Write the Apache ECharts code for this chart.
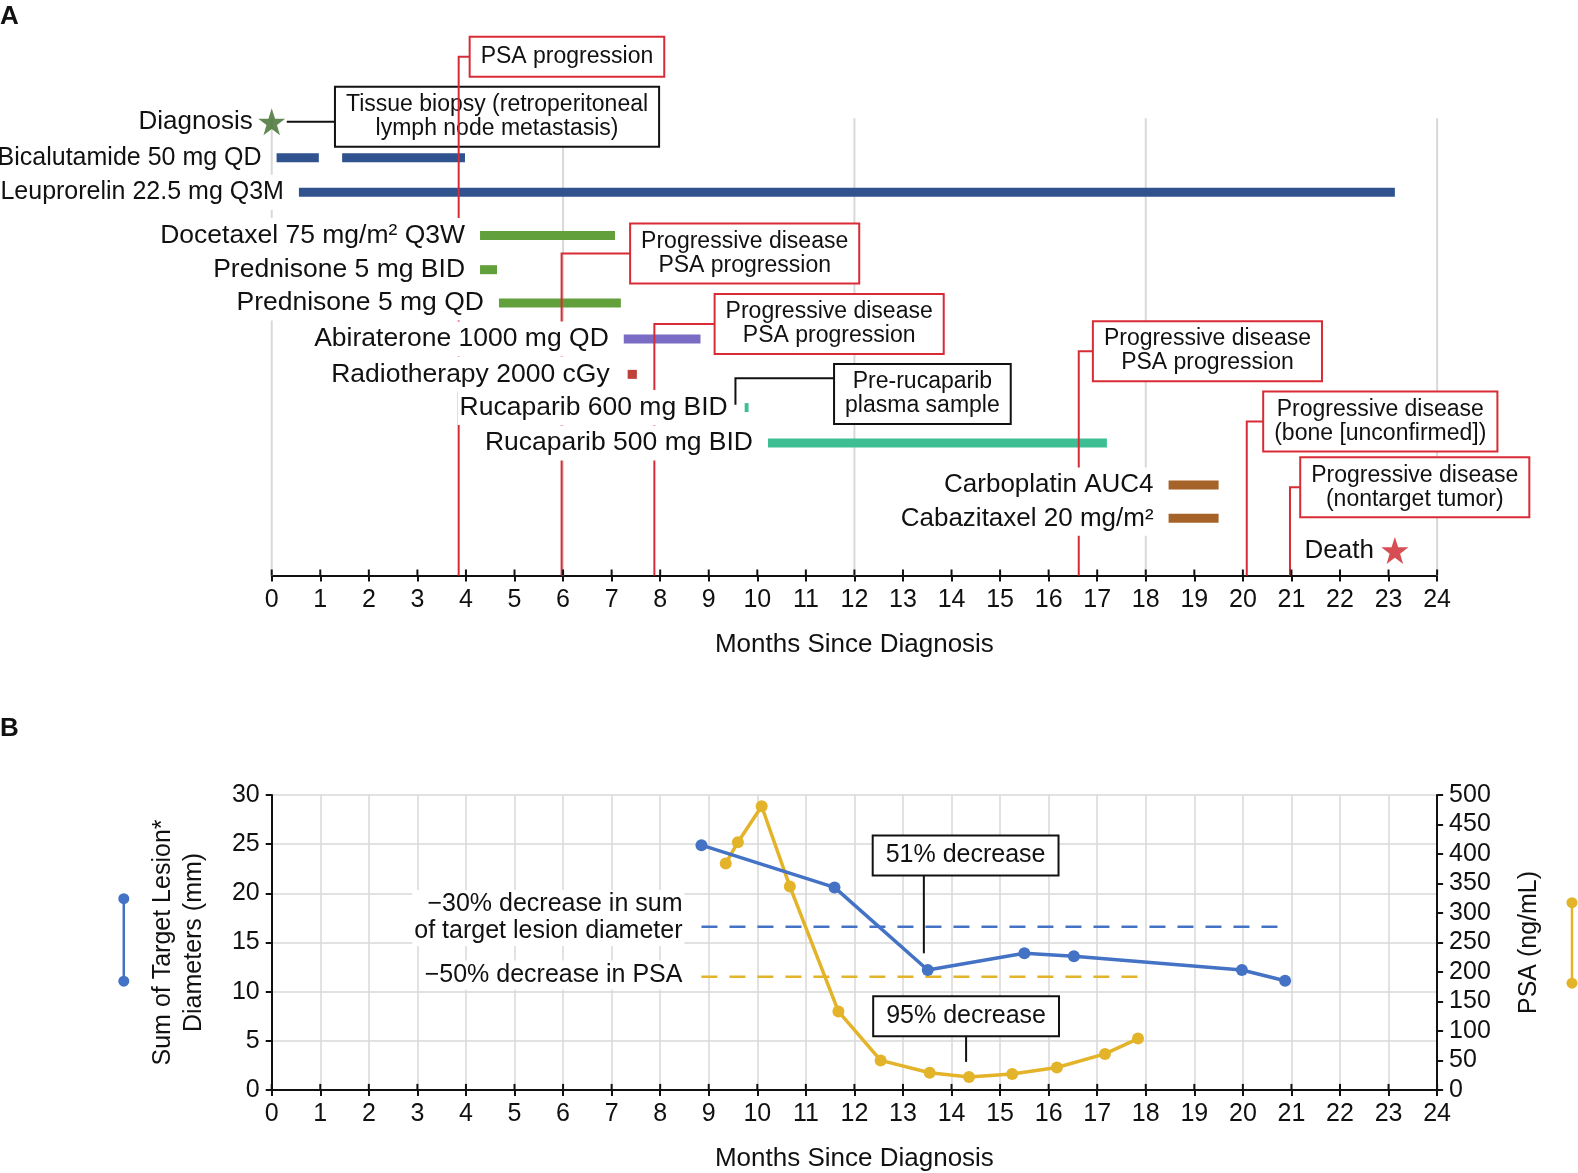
<!DOCTYPE html>
<html>
<head>
<meta charset="utf-8">
<script src="https://cdn.jsdelivr.net/npm/echarts@6/dist/echarts.min.js"></script>
<style>html,body{margin:0;padding:0;background:#fff}#c{width:1578px;height:1173px}</style>
</head>
<body>
<div id="c"></div>
<script>
// ---------------- DATA ----------------
const monthTicks = 24;
const tickMonths = Array.from({length: monthTicks + 1}, (_, i) => i);
const gridMonths = [0, 6, 12, 18, 24];
const rowLabels = [
  'Diagnosis', 'Bicalutamide 50 mg QD', 'Leuprorelin 22.5 mg Q3M', 'Docetaxel 75 mg/m\u00b2 Q3W',
  'Prednisone 5 mg BID', 'Prednisone 5 mg QD', 'Abiraterone 1000 mg QD', 'Radiotherapy 2000 cGy',
  'Rucaparib 600 mg BID', 'Rucaparib 500 mg BID', 'Carboplatin AUC4', 'Cabazitaxel 20 mg/m\u00b2', 'Death'
];
// [row, start month, end month]
const treatments = [
  [1, 0.10, 0.97], [1, 1.45, 3.98],
  [2, 0.56, 23.13],
  [3, 4.29, 7.07],
  [4, 4.29, 4.64],
  [5, 4.68, 7.19],
  [6, 7.25, 8.83],
  [7, 7.33, 7.52],
  [8, 9.74, 9.82],
  [9, 10.22, 17.20],
  [10, 18.47, 19.50],
  [11, 18.47, 19.50]
];
// [month, row]
const milestones = [[0, 0], [23.13, 12]];
const progressionMonths = [3.85, 5.97, 7.88, 16.62, 20.08, 20.97];
const progressionTexts = [
  'PSA progression',
  'Progressive disease\nPSA progression',
  'Progressive disease\nPSA progression',
  'Progressive disease\nPSA progression',
  'Progressive disease\n(bone [unconfirmed])',
  'Progressive disease\n(nontarget tumor)'
];
const noteMonths = [0, 9.55];
const noteTexts = ['Tissue biopsy (retroperitoneal\nlymph node metastasis)', 'Pre-rucaparib\nplasma sample'];

const lesionMonths = [8.85, 11.59, 13.51, 15.50, 16.52, 19.98, 20.87];
const lesionValues = [24.9, 20.6, 12.2, 13.9, 13.6, 12.2, 11.1];
const psaMonths = [9.35, 9.60, 10.09, 10.67, 11.67, 12.54, 13.55, 14.36, 15.25, 16.17, 17.16, 17.84];
const psaValues = [384, 420, 481, 345, 133, 50, 29, 22, 27, 38, 61, 87];
const lesionThreshold = 16.6;
const psaThreshold = 192;
const lesionNote = '51% decrease';
const psaNote = '95% decrease';
const lesionThresholdText = '\u221230% decrease in sum\nof target lesion diameter';
const psaThresholdText = '\u221250% decrease in PSA';

// ---------------- LAYOUT / STYLE ----------------
const S = 1578 / 1568;
const FONT = '"Liberation Sans", Arial, Helvetica, sans-serif';
const RED = '#d92b35';
const INK = '#111';
const GRID = '#d9d9d9';
const BLUE = '#4472c4';
const GOLD = '#e3b32a';
const rowColors = ['#3b6a28', '#30538f', '#30538f', '#62a03c', '#62a03c', '#62a03c', '#7a6cc4',
  '#c0403a', '#3dbf93', '#3dbf93', '#a5632a', '#a5632a', '#cc2228'];
const rowFont = [26, 25, 25, 26.5, 26.5, 26.5, 26.5, 26.5, 26.5, 26.5, 26, 26, 26];
const rowGap = [17, 13, 13, 13, 13, 13, 13, 16, 15, 13, 13, 13, 19];
// vertical lane of each row (layout only)
const rowLane = [0, 1.01, 1.97, 3.18, 4.14, 5.07, 6.08, 7.07, 8.0, 8.99, 10.17, 11.1, 12.0];
const ROW_MIN = -0.1, ROW_MAX = 12.7;
const U = 35.5 * S;
const A_LEFT = 270 * S, A_RIGHT = 1578 - 1428 * S;
const A_TOP = 121 * S + ROW_MIN * U, A_H = (ROW_MAX - ROW_MIN) * U;
const B_TOP = 790 * S, B_H = (1083 - 790) * S;
// box centre (month, lane) for each progression event
const eventBoxes = [
  {cx: 6.08, row: -1.82}, {cx: 9.74, row: 3.69}, {cx: 11.48, row: 5.66},
  {cx: 19.27, row: 6.42}, {cx: 22.83, row: 8.39}, {cx: 23.54, row: 10.23}
];
const noteLayout = [
  {cx: 4.64, boxRow: -0.14, path: [[0.31, 0], [4.64, 0]]},
  {cx: 13.40, boxRow: 7.62, path: [[9.55, 7.92], [9.55, 7.18], [13.40, 7.18]]}
];
const STAR = 'path://M50,0 L61.8,35.1 L98.1,35.1 L68.7,56.8 L79.4,91.5 L50,70 L20.6,91.5 L31.3,56.8 L1.9,35.1 L38.2,35.1 Z';

const rowAnchor = rowLabels.map((_, r) => {
  const segs = treatments.filter(t => t[0] === r);
  if (segs.length) return Math.min(...segs.map(s => s[1]));
  return milestones.find(m => m[1] === r)[0];
});

const chart = echarts.init(document.getElementById('c'));

function boxText(x, y, text, color, size, pad) {
  return {
    type: 'text', x: x, y: y,
    style: {
      text: text, fill: INK, fontSize: size, fontFamily: FONT,
      align: 'center', verticalAlign: 'middle', lineHeight: size + 1,
      backgroundColor: '#fff', borderColor: color, borderWidth: 2, padding: pad
    }
  };
}

const xMain = (gi, split) => ({
  type: 'value', gridIndex: gi, min: 0, max: monthTicks, interval: 1, position: 'bottom',
  axisLine: {show: true, onZero: false, lineStyle: {color: INK, width: 2}},
  axisTick: {show: true, length: 6, lineStyle: {color: INK, width: 2}},
  axisLabel: {color: INK, fontSize: 25, fontFamily: FONT, margin: 12},
  splitLine: {show: split, lineStyle: {color: GRID, width: 1.5}},
  name: 'Months Since Diagnosis', nameLocation: 'middle', nameGap: 56,
  nameTextStyle: {color: INK, fontSize: 26, fontFamily: FONT}
});
// upward half of the crossing x-axis ticks
const upTicks = (xi, yi, baseVal) => ({
  type: 'custom', xAxisIndex: xi, yAxisIndex: yi, z: 8, clip: false, silent: true,
  data: tickMonths.map(m => [m]),
  renderItem: function (params, api) {
    const p = api.coord([api.value(0), baseVal]);
    return {type: 'line', shape: {x1: p[0], y1: p[1], x2: p[0], y2: p[1] - 6}, style: {stroke: INK, lineWidth: 2}};
  }
});

const option = {
  animation: false,
  backgroundColor: '#fff',
  textStyle: {fontFamily: FONT},
  grid: [
    {left: A_LEFT, right: A_RIGHT, top: A_TOP, height: A_H, containLabel: false, outerBoundsMode: 'none'},
    {left: A_LEFT, right: A_RIGHT, top: B_TOP, height: B_H, containLabel: false, outerBoundsMode: 'none'}
  ],
  xAxis: [xMain(0, false), xMain(1, true)],
  yAxis: [
    {type: 'value', gridIndex: 0, inverse: true, min: ROW_MIN, max: ROW_MAX, show: false,
      axisLine: {show: false, onZero: false}},
    {type: 'value', gridIndex: 1, min: 0, max: 30, interval: 5, position: 'left',
      axisLine: {show: true, onZero: false, lineStyle: {color: INK, width: 2}},
      axisTick: {show: true, length: 6, lineStyle: {color: INK, width: 2}},
      axisLabel: {color: INK, fontSize: 25, fontFamily: FONT, margin: 12},
      splitLine: {show: true, lineStyle: {color: GRID, width: 1.5}},
      name: 'Sum of Target Lesion*\nDiameters (mm)', nameLocation: 'middle', nameRotate: 90, nameGap: 62,
      nameTextStyle: {color: INK, fontSize: 25, fontFamily: FONT, lineHeight: 31}},
    {type: 'value', gridIndex: 1, min: 0, max: 500, interval: 50, position: 'right',
      axisLine: {show: true, onZero: false, lineStyle: {color: INK, width: 2}},
      axisTick: {show: true, length: 6, lineStyle: {color: INK, width: 2}},
      axisLabel: {color: INK, fontSize: 25, fontFamily: FONT, margin: 12},
      splitLine: {show: false},
      name: 'PSA (ng/mL)', nameLocation: 'middle', nameRotate: 90, nameGap: 80,
      nameTextStyle: {color: INK, fontSize: 25, fontFamily: FONT}}
  ],
  graphic: [
    {type: 'text', left: 0, top: 4, style: {text: 'A', fontSize: 26, fontWeight: 'bold', fontFamily: FONT, fill: INK}},
    {type: 'text', left: 0, top: 716, style: {text: 'B', fontSize: 26, fontWeight: 'bold', fontFamily: FONT, fill: INK}},
    {type: 'group', children: [
      {type: 'line', shape: {x1: 123 * S, y1: 893 * S, x2: 123 * S, y2: 975 * S}, style: {stroke: BLUE, lineWidth: 2.5}},
      {type: 'circle', shape: {cx: 123 * S, cy: 893 * S, r: 5.5}, style: {fill: BLUE}},
      {type: 'circle', shape: {cx: 123 * S, cy: 975 * S, r: 5.5}, style: {fill: BLUE}}
    ]},
    {type: 'group', children: [
      {type: 'line', shape: {x1: 1562 * S, y1: 897 * S, x2: 1562 * S, y2: 977 * S}, style: {stroke: GOLD, lineWidth: 2.5}},
      {type: 'circle', shape: {cx: 1562 * S, cy: 897 * S, r: 5.5}, style: {fill: GOLD}},
      {type: 'circle', shape: {cx: 1562 * S, cy: 977 * S, r: 5.5}, style: {fill: GOLD}}
    ]}
  ],
  series: [
    // panel A vertical gridlines
    {
      type: 'custom', xAxisIndex: 0, yAxisIndex: 0, z: 1, clip: false, silent: true,
      data: gridMonths.map(m => [m]),
      renderItem: function (params, api) {
        const m = api.value(0);
        const a = api.coord([m, ROW_MIN]), b = api.coord([m, ROW_MAX]);
        return {type: 'line', shape: {x1: a[0], y1: a[1], x2: b[0], y2: b[1]}, style: {stroke: GRID, lineWidth: 2}};
      }
    },
    upTicks(0, 0, ROW_MAX),
    // treatment bars
    {
      type: 'custom', xAxisIndex: 0, yAxisIndex: 0, z: 2, clip: false,
      encode: {x: [1, 2], y: 0},
      data: treatments,
      renderItem: function (params, api) {
        const r = api.value(0), s = api.value(1), e = api.value(2);
        const p0 = api.coord([s, rowLane[r]]), p1 = api.coord([e, rowLane[r]]);
        const h = 9;
        return {type: 'rect', shape: {x: p0[0], y: p0[1] - h / 2, width: p1[0] - p0[0], height: h},
          style: {fill: rowColors[r]}};
      }
    },
    // black notes (boxes + connectors)
    {
      type: 'custom', xAxisIndex: 0, yAxisIndex: 0, z: 2.5, clip: false,
      data: noteMonths.map((m, i) => [m, i]),
      renderItem: function (params, api) {
        const i = api.value(1);
        const L = noteLayout[i];
        const pts = L.path.map(p => api.coord(p));
        const c = api.coord([L.cx, L.boxRow]);
        return {type: 'group', children: [
          {type: 'polyline', shape: {points: pts}, style: {stroke: INK, lineWidth: 2, fill: null}},
          boxText(c[0], c[1], noteTexts[i], INK, 23, [5, 10])
        ]};
      }
    },
    // progression lines
    {
      type: 'custom', xAxisIndex: 0, yAxisIndex: 0, z: 3, clip: false,
      data: progressionMonths.map((m, i) => [m, i]),
      renderItem: function (params, api) {
        const m = api.value(0), i = api.value(1);
        const B = eventBoxes[i];
        const p0 = api.coord([m, ROW_MAX]), p1 = api.coord([m, B.row]), p2 = api.coord([B.cx, B.row]);
        return {type: 'polyline', shape: {points: [p0, p1, p2]}, style: {stroke: RED, lineWidth: 2, fill: null}};
      }
    },
    // row labels
    {
      type: 'custom', xAxisIndex: 0, yAxisIndex: 0, z: 4, clip: false,
      data: rowLabels.map((t, r) => [rowAnchor[r], r]),
      renderItem: function (params, api) {
        const r = api.value(1);
        const p = api.coord([api.value(0), rowLane[r]]);
        return {type: 'text', x: p[0] - rowGap[r], y: p[1],
          style: {text: rowLabels[r], fill: INK, fontSize: rowFont[r], fontFamily: FONT, align: 'right',
            verticalAlign: 'middle', lineHeight: 29, backgroundColor: '#fff', padding: [3, 2]}};
      }
    },
    // progression boxes
    {
      type: 'custom', xAxisIndex: 0, yAxisIndex: 0, z: 5, clip: false,
      data: progressionMonths.map((m, i) => [m, i]),
      renderItem: function (params, api) {
        const i = api.value(1);
        const B = eventBoxes[i];
        const c = api.coord([B.cx, B.row]);
        const one = progressionTexts[i].indexOf('\n') < 0;
        return boxText(c[0], c[1], progressionTexts[i], RED, 23, one ? [7, 10] : [5, 10]);
      }
    },
    // stars
    {
      type: 'scatter', xAxisIndex: 0, yAxisIndex: 0, z: 6, symbol: STAR, symbolSize: 27,
      data: milestones.map(m => ({value: [m[0], rowLane[m[1]]], itemStyle: {color: rowColors[m[1]]}})),
      silent: true
    },
    // ---------- Panel B ----------
    upTicks(1, 1, 0),
    {
      type: 'line', xAxisIndex: 1, yAxisIndex: 1, z: 3,
      data: [[lesionMonths[0], lesionThreshold], [lesionMonths[lesionMonths.length - 1], lesionThreshold]],
      symbol: 'none', lineStyle: {color: BLUE, width: 2.5, type: [16, 12]}
    },
    {
      type: 'line', xAxisIndex: 1, yAxisIndex: 2, z: 3,
      data: [[lesionMonths[0], psaThreshold], [psaMonths[psaMonths.length - 1], psaThreshold]],
      symbol: 'none', lineStyle: {color: GOLD, width: 2.5, type: [16, 12]}
    },
    {
      type: 'custom', xAxisIndex: 1, yAxisIndex: 1, z: 4, clip: false,
      data: [[8.5, 17.5, 0], [8.5, 11.7, 1]],
      renderItem: function (params, api) {
        const p = api.coord([api.value(0), api.value(1)]);
        const t = api.value(2) === 0 ? lesionThresholdText : psaThresholdText;
        return {type: 'text', x: p[0], y: p[1],
          style: {text: t, fill: INK, fontSize: 25, fontFamily: FONT, align: 'right', verticalAlign: 'middle',
            lineHeight: 27, backgroundColor: '#fff', padding: [1, 2]}};
      }
    },
    {
      type: 'line', xAxisIndex: 1, yAxisIndex: 2, z: 5,
      data: psaMonths.map((m, i) => [m, psaValues[i]]),
      symbol: 'circle', symbolSize: 12, itemStyle: {color: GOLD}, lineStyle: {color: GOLD, width: 3.5}
    },
    {
      type: 'line', xAxisIndex: 1, yAxisIndex: 1, z: 6,
      data: lesionMonths.map((m, i) => [m, lesionValues[i]]),
      symbol: 'circle', symbolSize: 12, itemStyle: {color: BLUE}, lineStyle: {color: BLUE, width: 3.5}
    },
    {
      type: 'custom', xAxisIndex: 1, yAxisIndex: 1, z: 7, clip: false,
      data: [[13.43, 13.9, 0], [14.30, 2.85, 1]],
      renderItem: function (params, api) {
        const k = api.value(2);
        const m = api.value(0), v = api.value(1);
        const L = k === 0 ? {cx: 14.29, cy: 23.85, top: 21.8} : {cx: 14.30, cy: 7.5, top: 5.49};
        const a = api.coord([m, v]), b = api.coord([m, L.top]), c = api.coord([L.cx, L.cy]);
        return {type: 'group', children: [
          {type: 'line', shape: {x1: a[0], y1: a[1], x2: b[0], y2: b[1]}, style: {stroke: INK, lineWidth: 2}},
          boxText(c[0], c[1], k === 0 ? lesionNote : psaNote, INK, 25, [6, 12])
        ]};
      }
    }
  ]
};
chart.setOption(option);
</script>
</body>
</html>
